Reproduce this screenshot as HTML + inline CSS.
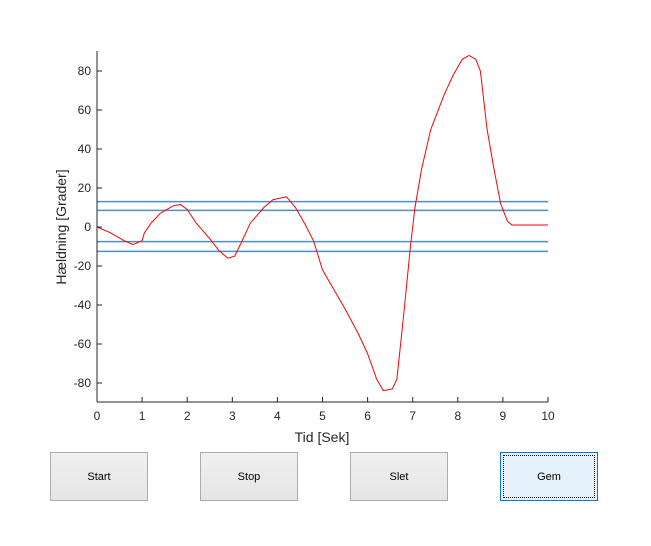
<!DOCTYPE html>
<html><head><meta charset="utf-8"><style>
body{margin:0;background:#fff;width:651px;height:546px;overflow:hidden;font-family:"Liberation Sans",sans-serif;position:relative}
.btn{position:absolute;top:452px;width:96px;height:47px;border:1px solid #adadad;background:linear-gradient(#f0f0f0,#e5e5e5);font-size:11px;display:flex;align-items:center;justify-content:center;color:#000}
#gem{background:#e5f1fb;border:1px solid #0078d7;outline:1px dotted #000;outline-offset:-4px}
</style></head><body>
<svg id="chart" width="651" height="546" style="position:absolute;left:0;top:0"></svg>
<div class="btn" style="left:50px">Start</div>
<div class="btn" style="left:200px">Stop</div>
<div class="btn" style="left:350px">Slet</div>
<div class="btn" id="gem" style="left:500px">Gem</div>
<script>
const times=[0,0.3,0.6,0.8,1.0,1.05,1.2,1.4,1.7,1.85,2.0,2.2,2.5,2.7,2.9,3.05,3.2,3.4,3.7,3.9,4.2,4.4,4.6,4.8,5.0,5.2,5.5,5.8,6.0,6.2,6.35,6.55,6.65,6.8,6.95,7.05,7.2,7.4,7.7,7.9,8.1,8.25,8.4,8.5,8.65,8.8,8.95,9.1,9.2,10];
const angles=[0,-3,-7,-9,-7,-3,2,7,11,11.5,9,2,-6,-12,-16,-15,-8,2,10,14,15.5,10,2,-7,-22,-30,-42,-55,-65,-78,-84,-83,-78,-45,-10,10,30,50,68,78,86,88,86,80,50,30,12,3,1,1];
const thresholds=[13,8.5,-7.5,-12.5];
const xTicks=[0,1,2,3,4,5,6,7,8,9,10];
const yTicks=[-80,-60,-40,-20,0,20,40,60,80];
const NS="http://www.w3.org/2000/svg";
const svg=document.getElementById('chart');
const X=t=>97+t*45.1, Y=v=>227-v*1.95;
function mk(tag,a){const e=document.createElementNS(NS,tag);for(const k in a)e.setAttribute(k,a[k]);svg.appendChild(e);return e;}
thresholds.forEach(v=>{const l=mk('line',{x1:97,x2:548,y1:Y(v),y2:Y(v),stroke:'#4a90c8','stroke-width':1.5});

});
const p=mk('polyline',{points:times.map((t,i)=>X(t)+','+Y(angles[i])).join(' '),fill:'none',stroke:'#ff0000','stroke-width':1});


mk('line',{x1:97,x2:97,y1:51,y2:402,stroke:'#262626'});
mk('line',{x1:97,x2:548,y1:402,y2:402,stroke:'#262626'});
xTicks.forEach(t=>{mk('line',{x1:X(t),x2:X(t),y1:402,y2:397,stroke:'#262626'});
const tx=mk('text',{x:X(t),y:420,'text-anchor':'middle','font-size':12,fill:'#262626'});tx.textContent=t;

});
yTicks.forEach(v=>{mk('line',{x1:97,x2:102,y1:Y(v),y2:Y(v),stroke:'#262626'});
const tx=mk('text',{x:91,y:Y(v)+4,'text-anchor':'end','font-size':12,fill:'#262626'});tx.textContent=v;

});
const xt=mk('text',{x:322,y:442,'text-anchor':'middle','font-size':14,fill:'#262626'});xt.textContent='Tid [Sek]';


const yt=mk('text',{x:0,y:0,'text-anchor':'middle','font-size':14,fill:'#262626',transform:'translate(66,227) rotate(-90)'});yt.textContent='Hældning [Grader]';


</script>
</body></html>
